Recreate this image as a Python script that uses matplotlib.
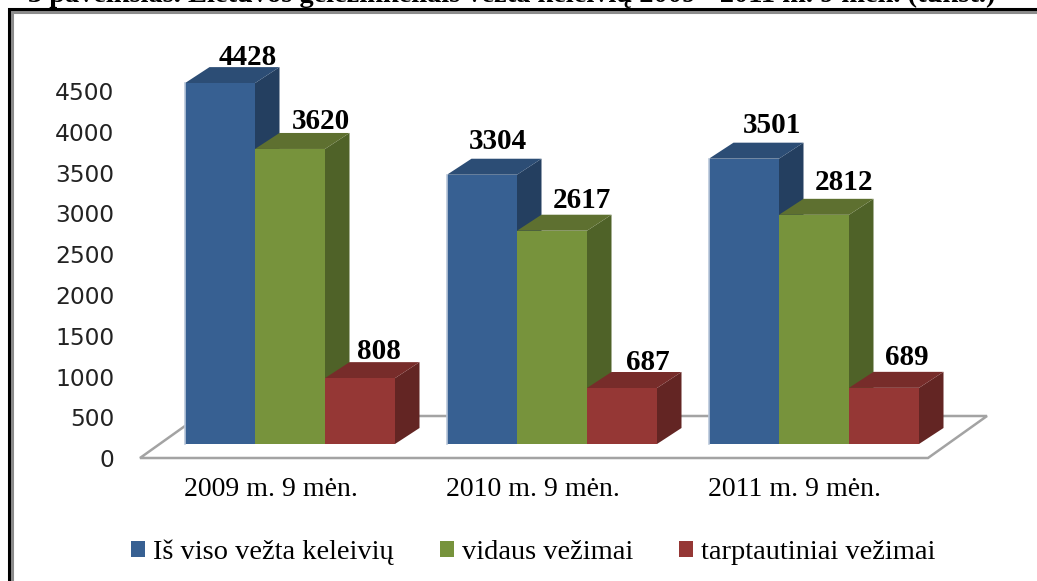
import numpy as np
import matplotlib
matplotlib.use('Agg')
import matplotlib.pyplot as plt
from matplotlib.patches import Patch, Polygon, Rectangle

# duomenys
kategorijos = ['2009 m. 9 mėn.', '2010 m. 9 mėn.', '2011 m. 9 mėn.']
is_viso = [4428, 3304, 3501]
vidaus = [3620, 2617, 2812]
tarptautiniai = [808, 687, 689]
serijos = ['Iš viso vežta keleivių', 'vidaus vežimai', 'tarptautiniai vežimai']
y_ticks = [0, 500, 1000, 1500, 2000, 2500, 3000, 3500, 4000, 4500]
pavadinimas = '3 paveikslas. Lietuvos geležinkeliais vežta keleivių 2009 - 2011 m. 9 mėn. (tūkst.)'

W, H = 1037, 581
fig = plt.figure(figsize=(W / 100, H / 100), dpi=100)
fig.patch.set_facecolor('white')

# 3D vaizdo parametrai
px_x = 262.0    # px vienai kategorijai
px_y = 0.0815   # px vienam vienetui
ax_left, ax_right, ax_bottom, ax_top = 140, 926, 458, 20
ax = fig.add_axes([ax_left / W, 1 - ax_bottom / H, (ax_right - ax_left) / W, (ax_bottom - ax_top) / H])
ax.set_xlim(-0.5, 2.5)
ax.set_ylim(0, (ax_bottom - ax_top) / px_y)
ax.patch.set_alpha(0)
for s in ax.spines.values():
    s.set_visible(False)

dx = 24.5 / px_x
dy = 16 / px_y
pagrindas = 14 / px_y
plotis = 70 / px_x
poslinkis = 19 / px_x

# grindys
grindu_dx = 59 / px_x
grindu_dy = 42 / px_y
grindu_x1 = 2.5 + 2 / px_x
ax.add_patch(Polygon([(-0.5, 0), (grindu_x1, 0), (grindu_x1 + grindu_dx, grindu_dy), (-0.5 + grindu_dx, grindu_dy)],
                     closed=True, facecolor='white', edgecolor='#a3a3a3', linewidth=1.8,
                     clip_on=False, zorder=1))

spalvos = ['#376092', '#77933c', '#953735']
virsus = ['#2c4d75', '#5e7030', '#772c2a']
sonas = ['#243f60', '#4f6228', '#632523']
krastas = ['#b9c7da', '#c4d0a8', '#d9b3b2']
reiksmes = [is_viso, vidaus, tarptautiniai]
# uzrasu postumiai px
label_dx = [[28, 31, 19], [16, 30, 26], [28, 30, 23]]
label_dy = [[26, 27, 27], [33, 30, 26], [33, 32, 30]]

x = np.arange(len(kategorijos))
z = 3
for g in x:
    for i in range(3):
        v = reiksmes[i][g]
        x0 = g + poslinkis + (i - 1.5) * plotis
        x1 = x0 + plotis
        top = pagrindas + v
        # sonas ir virsus
        ax.add_patch(Polygon([(x1, pagrindas), (x1 + dx, pagrindas + dy), (x1 + dx, top + dy), (x1, top)],
                             closed=True, facecolor=sonas[i], edgecolor='none', clip_on=False, zorder=z))
        ax.add_patch(Polygon([(x0, top), (x0 + dx, top + dy), (x1 + dx, top + dy), (x1, top)],
                             closed=True, facecolor=virsus[i], edgecolor='none', clip_on=False, zorder=z))
        ax.bar(x0, v, width=plotis, bottom=pagrindas, align='edge', color=spalvos[i], zorder=z + 0.5)
        if i == 0:
            ax.plot([x0, x0], [pagrindas, top], color=krastas[i], lw=1.2, zorder=z + 0.6)
        ax.annotate(str(v), xy=(x0 + plotis / 2, top),
                    xytext=(label_dx[g][i], label_dy[g][i]), textcoords='offset pixels',
                    ha='center', va='center', family='Liberation Serif', fontweight='bold',
                    fontsize=21, color='black', zorder=50, annotation_clip=False)
        z += 1

ax.set_yticks(y_ticks)
ax.set_yticklabels([str(t) for t in y_ticks], family='DejaVu Sans', fontsize=16.8, color='#222222')
ax.set_xticks(x)
ax.set_xticklabels(kategorijos, family='Liberation Serif', fontsize=20, color='black')
ax.tick_params(axis='y', length=0, pad=18.5)
ax.tick_params(axis='x', length=0, pad=14)

# legenda
handles = [Patch(facecolor=c, edgecolor='none') for c in spalvos]
leg = fig.legend(handles, serijos, loc='center left', bbox_to_anchor=(131 / W, 1 - 552 / H), ncol=3,
                 frameon=False, prop={'family': 'Liberation Serif', 'size': 20.5},
                 handlelength=0.5, handleheight=0.5, handletextpad=0.28, columnspacing=1.6,
                 borderpad=0, borderaxespad=0)

# remelis (desinys ir apatinis krastai uz paveikslo ribu)
fig.add_artist(Rectangle((11.5 / W, -0.1), 1.2, 1 - 11.5 / H + 0.1, transform=fig.transFigure,
                         facecolor='none', edgecolor='#8c8c8c', linewidth=2.2))
fig.add_artist(Rectangle((8.5 / W, -0.1), 1.2, 1 - 9 / H + 0.1, transform=fig.transFigure,
                         facecolor='none', edgecolor='black', linewidth=2.2))

# pavadinimas, virsuje nukirstas
fig.text(28 / W, 1 - 2.5 / H, pavadinimas, family='Liberation Serif', fontweight='bold',
         fontsize=20.4, ha='left', va='baseline', color='black')

fig.savefig('out.png', dpi=100)
